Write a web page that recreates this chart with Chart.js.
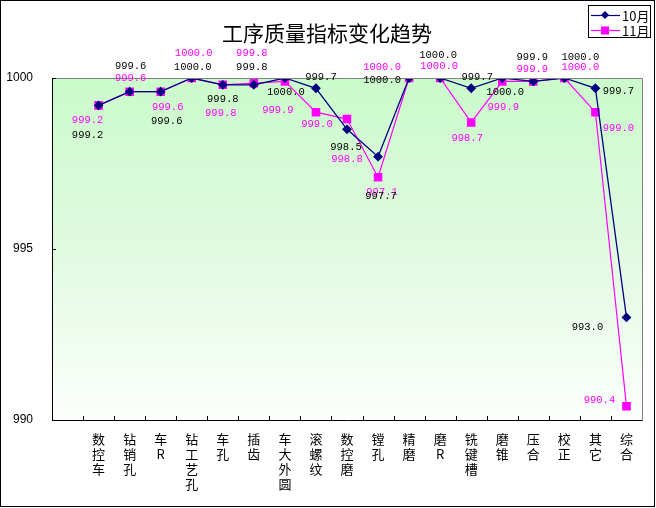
<!DOCTYPE html>
<html><head><meta charset="utf-8">
<script src="https://cdn.jsdelivr.net/npm/chart.js@4/dist/chart.umd.min.js"></script>
<style>html,body{margin:0;padding:0;background:#fff}canvas{display:block}</style>
</head><body>
<canvas id="c" width="656" height="508" style="width:656px;height:508px"></canvas>
<script>
const categories = ['数控车','钻销孔','车R','钻工艺孔','车孔','插齿','车大外圆','滚螺纹','数控磨','镗孔','精磨','磨R','铣键槽','磨锥','压合','校正','其它','综合'];
const seriesNames = ['10月','11月'];
const oct = [999.2,999.6,999.6,1000.0,999.8,999.8,1000.0,999.7,998.5,997.7,1000.0,1000.0,999.7,1000.0,999.9,1000.0,999.7,993.0];
const nov = [999.2,999.6,999.6,1000.0,999.8,999.85,999.9,999.0,998.8,997.1,1000.0,1000.0,998.7,999.9,999.9,1000.0,999.0,990.4];
const octText = ['999.2','999.6','999.6','1000.0','999.8','999.8','1000.0','999.7','998.5','997.7','1000.0','1000.0','999.7','1000.0','999.9','1000.0','999.7','993.0'];
const novText = ['999.2','999.6','999.6','1000.0','999.8','999.8','999.9','999.0','998.8','997.1','1000.0','1000.0','998.7','999.9','999.9','1000.0','999.0','990.4'];
const yTicks = [990, 995, 1000];

// label offsets (pixels, relative to point)
const octOff = [[-11,30],[1,-25],[6,30],[1,-11],[0,14],[-2,-18],[1,14],[5,-11],[-1,18],[3,40],[-27,2],[-2,-23],[6,-11],[3,14],[-1,-24],[16,-21],[23,3],[-39,10]];
const novOff = [[-11,15],[1,-13],[7,16],[2,-25],[-2,28],[-2,-30],[-7,29],[1,12],[0,40],[4,15],[-27,-11],[-1,-12],[-4,16],[1,26],[-1,-12],[16,-11],[23,16],[-27,-6]];

const labels = [''].concat(categories).map(s => Array.from(s));
const octData = [null].concat(oct);
const novData = [null].concat(nov);

const decor = {
  id: 'decor',
  beforeDraw(chart) {
    const ctx = chart.ctx, a = chart.chartArea;
    ctx.save();
    ctx.fillStyle = '#fff';
    ctx.fillRect(0, 0, chart.width, chart.height);
    const g = ctx.createLinearGradient(0, a.top, 0, a.bottom);
    g.addColorStop(0, '#cbfbcb');
    g.addColorStop(0.5, '#e0fae0');
    g.addColorStop(1, '#fdfffd');
    ctx.fillStyle = g;
    ctx.fillRect(a.left, a.top, a.right - a.left, a.bottom - a.top);
    ctx.restore();
  },
  afterDraw(chart) {
    const ctx = chart.ctx, a = chart.chartArea;
    ctx.save();
    ctx.strokeStyle = '#808080'; ctx.lineWidth = 1;
    ctx.beginPath();
    ctx.moveTo(a.left, a.top + 0.5); ctx.lineTo(a.right + 0.5, a.top + 0.5); ctx.lineTo(a.right + 0.5, a.bottom);
    ctx.stroke();
    ctx.strokeStyle = '#000';
    ctx.beginPath();
    ctx.moveTo(a.left + 0.5, a.top); ctx.lineTo(a.left + 0.5, a.bottom + 0.5); ctx.lineTo(a.right + 0.5, a.bottom + 0.5);
    ctx.stroke();
    const ys = chart.scales.y;
    const n = labels.length, w = (a.right - a.left) / n;
    ctx.beginPath();
    for (let i = 1; i < n; i++) {
      const x = Math.round(a.left + w * i) + 0.5;
      ctx.moveTo(x, a.bottom); ctx.lineTo(x, a.bottom - 4);
    }
    yTicks.forEach(v => { const y = Math.round(ys.getPixelForValue(v)) + 0.5; ctx.moveTo(a.left, y); ctx.lineTo(a.left + 4, y); });
    ctx.stroke();
    ctx.font = '10.5px "Liberation Mono", "DejaVu Sans Mono", monospace';
    ctx.textAlign = 'center'; ctx.textBaseline = 'middle';
    const drawLabels = (di, texts, offs, color) => {
      const meta = chart.getDatasetMeta(di);
      ctx.fillStyle = color;
      texts.forEach((t, i) => {
        const el = meta.data[i + 1];
        if (!el) return;
        ctx.fillText(t, el.x + offs[i][0], el.y + offs[i][1]);
      });
    };
    drawLabels(1, novText, novOff, '#ff00ff');
    drawLabels(0, octText, octOff, '#000000');
    ctx.fillStyle = '#000';
    ctx.font = '21px "Noto Sans CJK SC", sans-serif';
    ctx.fillText('工序质量指标变化趋势', 327, 33);
    ctx.fillStyle = '#fff';
    ctx.fillRect(588, 5, 62, 32);
    ctx.strokeStyle = '#000';
    ctx.strokeRect(588.5, 5.5, 62, 32);
    const items = [{c:'#000080', s:'d', y:15}, {c:'#ff00ff', s:'s', y:30}];
    items.forEach((it, k) => {
      ctx.strokeStyle = it.c; ctx.fillStyle = it.c; ctx.lineWidth = 1.2;
      ctx.beginPath(); ctx.moveTo(591, it.y + 0.5); ctx.lineTo(620, it.y + 0.5); ctx.stroke();
      ctx.beginPath();
      if (it.s === 'd') { ctx.moveTo(605, it.y - 4); ctx.lineTo(609, it.y); ctx.lineTo(605, it.y + 4); ctx.lineTo(601, it.y); ctx.closePath(); ctx.fill(); }
      else { ctx.fillRect(601, it.y - 3.5, 8, 8); }
      ctx.fillStyle = '#000';
      ctx.textAlign = 'left';
      ctx.font = '13px "Noto Sans CJK SC", sans-serif';
      ctx.fillText(seriesNames[k], 622, it.y + 1);
    });
    ctx.strokeStyle = '#000'; ctx.lineWidth = 1;
    ctx.strokeRect(0.5, 0.5, 654, 506);
    ctx.restore();
  }
};

new Chart(document.getElementById('c'), {
  type: 'line',
  data: {
    labels: labels,
    datasets: [
      { label: seriesNames[0], data: octData, borderColor: '#000080', backgroundColor: '#000080', borderWidth: 1.3,
        pointStyle: 'rectRot', pointRadius: 4, pointHoverRadius: 4, tension: 0, spanGaps: false },
      { label: seriesNames[1], data: novData, borderColor: '#ff00ff', backgroundColor: '#ff00ff', borderWidth: 1.2,
        pointStyle: 'rect', pointRadius: 5.2, pointHoverRadius: 5.2, tension: 0, spanGaps: false }
    ]
  },
  options: {
    responsive: false, animation: false, devicePixelRatio: 1,
    layout: { padding: { left: 0, right: 14, top: 78, bottom: 0 } },
    plugins: { legend: { display: false }, title: { display: false }, tooltip: { enabled: false } },
    scales: {
      x: {
        type: 'category', offset: true,
        grid: { display: false, drawTicks: false },
        border: { display: false },
        ticks: { autoSkip: false, maxRotation: 0, minRotation: 0, padding: 12, color: '#000',
          font: { family: '"Noto Sans CJK SC", sans-serif', size: 13, lineHeight: 1.15 } },
        afterFit(s) { s.height = 88; }
      },
      y: {
        min: 990, max: 1000,
        afterBuildTicks(s) { s.ticks = yTicks.map(v => ({ value: v })); },
        grid: { display: false, drawTicks: false },
        border: { display: false },
        ticks: { padding: 19, color: '#000', font: { family: '"Liberation Sans", Arial, sans-serif', size: 12 },
          callback: v => String(v) },
        afterFit(s) { s.width = 52; }
      }
    }
  },
  plugins: [decor]
});
</script>
</body></html>
